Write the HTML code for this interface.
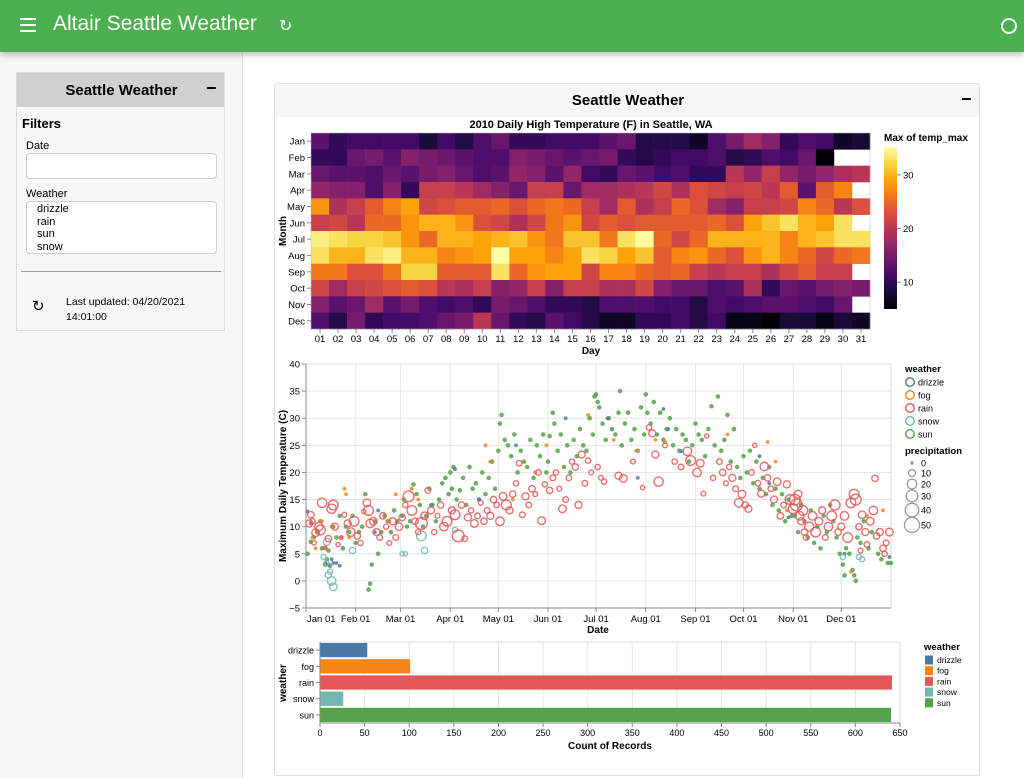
<!DOCTYPE html>
<html><head><meta charset="utf-8">
<style>
*{box-sizing:border-box;margin:0;padding:0}
body{width:1024px;height:778px;overflow:hidden;font-family:"Liberation Sans",sans-serif;background:#fff;position:relative}
.abs{position:absolute}
#hdr{left:0;top:0;width:1024px;height:52px;background:#4caf50;box-shadow:0 3px 6px rgba(0,0,0,.25);z-index:2}
#side{left:0;top:52px;width:243px;height:726px;background:#f6f6f6;border-right:1px solid #e2e2e2}
svg text{font-family:"Liberation Sans",sans-serif}
</style></head><body>
<div id="hdr" class="abs">
  <div class="abs" style="left:20px;top:18px;width:16px;height:14px">
    <div style="height:2px;background:#fff;margin-bottom:4px"></div><div style="height:2px;background:#fff;margin-bottom:4px"></div><div style="height:2px;background:#fff"></div>
  </div>
  <div class="abs" style="left:53px;top:12px;font-size:21px;color:#fff">Altair Seattle Weather</div>
  <div class="abs" style="left:279px;top:16px;font-size:16px;color:#fff">↻</div>
  <div class="abs" style="left:1001px;top:18px;width:16px;height:16px;border:2px solid #fff;border-radius:50%"></div>
</div>
<div id="side" class="abs"></div>
<div class="abs" style="left:16px;top:72px;width:209px;height:259px;border:1px solid #ddd;background:#f7f7f7">
  <div style="height:34px;background:#d0d0d0;position:relative">
    <div class="abs" style="left:0;width:209px;top:9px;text-align:center;font-weight:bold;font-size:15px">Seattle Weather</div>
    <div class="abs" style="left:189px;top:5px;font-weight:bold;font-size:18px">−</div>
  </div>
  <div class="abs" style="left:5px;top:43px;font-weight:bold;font-size:13px">Filters</div>
  <div class="abs" style="left:9px;top:67px;font-size:11px">Date</div>
  <div class="abs" style="left:9px;top:80px;width:191px;height:26px;border:1px solid #ccc;border-radius:4px;background:#fff"></div>
  <div class="abs" style="left:9px;top:115px;font-size:11px">Weather</div>
  <div class="abs" style="left:9px;top:128px;width:191px;height:53px;border:1px solid #ccc;border-radius:4px;background:#fff;font-size:11px;line-height:12.7px;padding:1px 0 0 10px">
    <div>drizzle</div><div>rain</div><div>sun</div><div>snow</div>
  </div>
  <div class="abs" style="left:4px;top:198px;width:200px;height:1px;background:#999"></div>
  <div class="abs" style="left:15px;top:224px;font-size:15px">↻</div>
  <div class="abs" style="left:49px;top:222px;font-size:10.5px;line-height:15px">Last updated: 04/20/2021<br>14:01:00</div>
</div>
<div class="abs" style="left:274px;top:83px;width:706px;height:693px;border:1px solid #ddd;border-radius:3px">
  <div style="height:33px;background:#f7f7f7;position:relative">
    <div class="abs" style="left:0;width:706px;top:8px;text-align:center;font-weight:bold;font-size:15px">Seattle Weather</div>
    <div class="abs" style="left:686px;top:5px;font-weight:bold;font-size:18px">−</div>
  </div>
</div>
<svg id="charts" class="abs" style="left:0;top:0" width="1024" height="778"></svg>
<script>
// ---------- heatmap data ----------
const months=["Jan","Feb","Mar","Apr","May","Jun","Jul","Aug","Sep","Oct","Nov","Dec"];
const dayLabels=["01","02","03","04","05","06","07","08","09","10","11","12","13","14","15","16","17","18","19","20","21","22","23","24","25","26","27","28","29","30","31"];
const tJan=[13,10,11,11,11,11,8,11,9,12,14,10,10,11,11,11,13,14,9,9,9,7,12,15,18,16,10,12,11,7,8];
const tFeb=[10,10,14,15,13,16,15,14,13,12,12,16,15,14,13,14,15,10,9,10,11,11,12,9,10,12,11,14,4,null,null];
const tMar=[14,13,13,12,14,13,15,16,14,12,13,17,16,13,17,11,10,14,13,11,12,10,10,20,17,21,17,15,17,19,20];
const tApr=[17,16,16,12,16,10,21,21,20,18,16,14,21,21,14,18,18,19,20,22,19,23,22,21,22,20,24,13,24,27,null];
const tMay=[28,19,21,24,27,29,22,23,24,24,25,23,25,26,25,21,18,24,19,21,25,23,18,16,21,21,22,27,25,20,23];
const tJun=[21,22,20,25,25,28,30,30,28,23,22,19,22,26,28,22,24,23,24,24,24,24,25,23,29,31,33,30,29,33,null];
const tJul=[34,33,32,32,31,28,25,30,30,29,30,31,28,26,31,31,26,33,35,25,22,25,30,30,30,30,27,30,31,33,33];
const tAug=[33,30,30,33,34,30,30,27,28,29,35.5,29,29,27,29,33,32,29,31,24,27,28,25,23,28,30,27,25,22,25,26];
const tSep=[26,26,23,23,26,32,32,24,24,24,33,25,28,29,29,22,27,27,25,24,25,21,20,21,21,19,22,24,21,21,null];
const tOct=[22,18,21,22,23,24,23,20,19,21,16,17,21,16,21,21,19,19,22,16,14,14,12,13,19,10,14,13,15,16,15];
const tNov=[16,13,14,18,13,15,12,11,12,10,15,14,12,10,10,9,12,12,12,11,11,9,12,11,12,13,13,12,11,14,null];
const tDec=[12,9,15,10,11,11,12,14,15,20,14,10,9,13,11,9,7,7,10,10,11,9,11,6,6,5,8,8,6,8,7];
const heatRows=[tJan,tFeb,tMar,tApr,tMay,tJun,tJul,tAug,tSep,tOct,tNov,tDec];
const heatTicks=[10,20,30];
// ---------- scatter data: [dayOfYear, tempMax, precipitation] ----------
const rainPts=[[2,10.6,10],[3,12.2,8],[4,11,5],[5,7,3],[6,8.9,12],[8,10,15],[9,9.4,20],[10,14.4,18],[12,6.1,2],[14,7.8,8],[16,13.3,18],[17,14,20],[18,10,10],[20,6.7,3],[22,8,2],[24,12.2,4],[26,10.6,10],[28,9,15],[30,11,20],
[32,8.3,8],[34,7,5],[36,12.8,3],[38,14.4,12],[39,13,20],[40,10.6,15],[42,11,12],[44,9,10],[46,8,6],[48,12,8],[50,10,5],[52,7,4],[54,11,10],[56,8,6],[58,10,12],
[60,11.7,8],[62,14,5],[64,15.6,25],[66,13,20],[68,11,8],[70,9,5],[72,10.6,30],[74,12,12],[76,16.7,6],[78,13,10],[80,9,5],[82,12,4],[84,14,8],[86,10,15],[88,11,20],
[91,13,10],[93,12.2,20],[95,8.3,30],[97,14,8],[99,7.8,6],[101,11.7,10],[103,13,5],[105,10.6,12],[107,12,6],[109,14.4,4],[111,11,8],[113,13,6],[115,12,10],[117,15,8],[119,14,5],
[121,11,15],[123,15.6,12],[125,14,20],[127,13,10],[129,16,8],[131,18,5],[133,21.7,6],[135,12.2,6],[137,15.6,10],[139,14,6],[141,17,8],[143,16,4],[145,20,6],[147,11.1,12],[149,17.8,5],
[152,16.7,8],[154,19,6],[156,20,5],[158,17,4],[160,13.3,12],[162,15,6],[164,19,6],[166,22,5],[168,21,8],[170,14,10],[172,23.3,10],[174,18,6],[176,22.2,5],[178,20,4],
[182,21,5],[184,19,4],[186,18.3,5],[195,19.4,10],[198,18.9,12],[204,22,4],[210,17.2,3],
[214,28.3,5],[216,27.2,10],[218,23.3,10],[220,18.3,18],[224,25,4],[230,22,5],[234,21,6],[238,23.9,15],[240,22.2,20],
[244,20,15],[246,21.7,12],[248,16.1,4],[250,26.7,3],[254,19,5],[258,22,6],[260,20,8],[262,18,4],[264,21,5],[266,19,10],[268,17,6],[270,14.4,15],[272,16,12],
[274,14,8],[276,13.3,10],[278,20,6],[280,25,3],[282,18,6],[284,16.1,10],[286,21.1,15],[288,19,8],[290,17,6],[292,15,10],[294,18.3,12],[296,12,8],[298,14,6],[300,17.8,10],[302,15,20],
[304,13.3,20],[305,15,25],[306,14,30],[307,16,12],[308,12,15],[309,11,10],[310,13,20],[311,9,8],[312,8,6],[314,10,18],[316,12,15],[318,9,20],[320,11,12],[322,13,10],[324,8,6],[326,10,15],[328,12,20],[330,14,22],[332,9,8],
[334,10,10],[336,12,15],[338,8,20],[340,14.4,20],[342,16,20],[343,15,25],[345,10,8],[347,12.2,12],[349,9,10],[350,6.7,6],[352,11,12],[354,13,15],[356,8.3,8],[358,9,10],[360,6,8],[362,7,6],[364,9,12],[355,18.9,8],[346,5.6,4],[361,5,5]];
const sunPts=[[1,5,0],[3,7.2,0],[5,8,0],[7,9,0],[9,11,0],[10,6,0],[12,3,0],[13,4,0],[14,5.6,0],[15,2.8,0],[17,10,0],[19,8,0],[21,12,0],[23,6,0],[25,10,0],[27,9,0],[29,12,0],
[31,7,0],[33,9,0],[35,10,0],[37,16,0],[39,-1.6,0],[40,-0.5,0],[41,3,0],[43,11,0],[45,5,0],[47,9,0],[49,12,0],[51,11,0],[53,9,0],[55,13,0],[57,11,0],
[60,12,0],[61,15,0],[63,10,0],[65,11,0],[67,17.8,0],[69,16,0],[71,14,0],[73,10,0],[75,12,0],[77,17,0],[79,14,0],[81,11,0],[83,15,0],[85,18,0],[87,19,0],[89,16,0],
[90,20,0],[91,17,0],[92,21,0],[94,15,0],[96,16.7,0],[98,19,0],[100,14,0],[102,21,0],[104,17,0],[106,18,0],[108,15,0],[110,20,0],[112,16,0],[114,19,0],[116,22,0],[118,17,0],
[120,24,0],[121,29,0],[122,30.6,0],[124,26,0],[126,25,0],[128,23,0],[130,27,0],[132,20,0],[134,24,0],[136,22,0],[138,21,0],[140,26,0],[142,19,0],[144,25,0],[146,23,0],[148,27,0],[150,20,0],
[151,22,0],[152,26.7,0],[154,31,0],[155,29,0],[157,24,0],[159,27,0],[161,21,0],[163,25,0],[165,20,0],[167,26,0],[169,23,0],[171,28,0],[173,25,0],[175,24,0],[177,30,0],[179,27,0],
[180,34,0],[181,34.4,0],[182,33,0],[183,32,0],[185,29,0],[187,26,0],[189,30,0],[191,28,0],[193,27,0],[195,31,0],[196,35,0],[197,25,0],[199,29,0],[201,31,0],[203,26,0],[205,28,0],[207,24,0],[209,32,0],[211,27,0],
[212,34.4,0],[213,31,0],[215,29,0],[217,33,0],[219,27,0],[221,31,0],[223,26,0],[225,28,0],[227,30,0],[229,25,0],[231,28,0],[233,24,0],[235,27,0],[237,26,0],[239,22,0],[241,25,0],
[243,29,0],[245,27,0],[247,26,0],[249,23,0],[251,28,0],[253,32.2,0],[255,25,0],[257,34,0],[259,24,0],[261,26,0],[263,30.6,0],[265,22,0],[267,28,0],[269,21,0],[271,19,0],
[273,23,0],[275,20,0],[277,24,0],[279,18,0],[281,22,0],[283,17,0],[285,19,0],[287,16,0],[289,21,0],[291,14,0],[293,17,0],[295,13,0],[297,16,0],[299,11,0],[301,15,0],[303,12,0],
[305,12,0],[307,9,0],[309,14,0],[311,11,0],[313,8,0],[315,13,0],[317,7,0],[319,10,0],[321,6,0],[323,12,0],[325,9,0],[327,14,0],[329,11,0],[331,8,0],[333,5,0],
[335,3,0],[336,1,0],[337,6,0],[339,5,0],[341,2,0],[342,1,0],[343,0,0],[344,8,0],[346,7,0],[348,11,0],[351,6,0],[353,9,0],[357,5,0],[359,4,0],[363,3.3,0],[365,3.3,0]];
const fogPts=[[4,8,0],[6,6,0],[10,11,0],[16,10,0],[24,17,0],[25,16,0],[27,8,0],[52,11,0],[56,16,0],[66,17,0],[70,15,0],[112,25,0],[115,22,0],[129,15,0],[143,20,0],[150,25,0],[176,30.6,0],[192,26,0],[206,24,0],[218,26,0],[224,25.6,0],[263,27,0],[288,25.6,0],[293,22,0],[300,13,0],[340,1.7,0],[350,12,0],[360,13,0]];
const drizzlePts=[[1,12.8,0],[3,10.6,0],[12,3.3,0],[14,3,0],[16,4,0],[17,3.3,0],[19,3.3,0],[21,2.8,0],[43,9,0],[45,13,0],[78,14,0],[93,20.6,0],[108,15,0],[131,25,0],[162,30,0],[188,30,0],[207,19,0],[223,31.7,0],[226,28,0],[234,23.9,0],[283,23,0],[289,18,0],[301,11.7,0],[336,5,0],[364,4.4,0]];
const snowPts=[[11,4.4,5],[13,3.3,3],[14,1.1,8],[15,1.7,5],[16,0,15],[17,-1.1,12],[13,7.2,10],[29,5.6,8],[60,5,3],[62,5,3],[72,8.3,20],[74,5.6,8],[93,9.4,5],[335,4.4,5],[345,4.4,5],[347,4,5]];
const monthTickLabels=["Jan 01","Feb 01","Mar 01","Apr 01","May 01","Jun 01","Jul 01","Aug 01","Sep 01","Oct 01","Nov 01","Dec 01"];
const monthStartDays=[0,31,59,90,120,151,181,212,243,273,304,334];
const tempTicks=[-5,0,5,10,15,20,25,30,35,40];
const precipLegend=[0,10,20,30,40,50];
// ---------- bar data ----------
const weatherCats=["drizzle","fog","rain","snow","sun"];
const weatherCounts=[53,101,641,26,640];
const countTicks=[0,50,100,150,200,250,300,350,400,450,500,550,600,650];
const weatherColors={drizzle:"#4c78a8",fog:"#f58518",rain:"#e45756",snow:"#72b7b2",sun:"#54a24b"};

const svg=document.getElementById('charts');
const NS="http://www.w3.org/2000/svg";
function mk(tag,attrs,parent,txt){const e=document.createElementNS(NS,tag);for(const k in attrs)e.setAttribute(k,attrs[k]);if(txt!==undefined)e.textContent=txt;(parent||svg).appendChild(e);return e;}
function grp(name){const g=mk('g',{});return g;}

// inferno ramp
const inferno=["#000004","#160b39","#420a68","#6a176e","#932667","#bc3754","#dd513a","#f37819","#fca50a","#f6d746","#fcffa4"];
function hex(c){return [1,3,5].map(i=>parseInt(c.substr(i,2),16));}
function infernoAt(t){t=Math.max(0,Math.min(1,t));const p=t*10,i=Math.min(9,Math.floor(p)),f=p-i;const a=hex(inferno[i]),b=hex(inferno[i+1]);return "rgb("+a.map((v,k)=>Math.round(v+(b[k]-v)*f)).join(",")+")";}

// ===== HEATMAP =====
const hX0=311,hX1=870,hY0=133,hY1=329,cMin=5,cMax=35.2;
const cw=(hX1-hX0)/31,ch=(hY1-hY0)/12;
const hx=d=>hX0+d*cw, hy=m=>hY0+m*ch;
const hg=grp('heatmap');
const ht=mk('text',{x:591,y:128,'text-anchor':'middle','font-size':11,'font-weight':'bold'},hg,"2010 Daily High Temperature (F) in Seattle, WA");

heatRows.forEach((row,m)=>row.forEach((v,d)=>{if(v===null)return;
  const r=mk('rect',{x:hx(d),y:hy(m),width:cw+0.3,height:ch+0.3,fill:infernoAt((v-cMin)/(cMax-cMin))},hg);
  }));
mk('rect',{x:hX0,y:hY0,width:hX1-hX0,height:hY1-hY0,fill:'none',stroke:'#bbb','stroke-width':0.5},hg);
months.forEach((m,i)=>{const y=hy(i)+ch/2;mk('line',{x1:hX0-4,x2:hX0,y1:y,y2:y,stroke:'#888'},hg);
  const t=mk('text',{x:hX0-6,y:y+3.5,'text-anchor':'end','font-size':9.5,fill:'#000'},hg,m);});
dayLabels.forEach((l,i)=>{const x=hx(i)+cw/2;mk('line',{x1:x,x2:x,y1:hY1,y2:hY1+4,stroke:'#888'},hg);
  const t=mk('text',{x:x,y:hY1+13,'text-anchor':'middle','font-size':9.5},hg,l);});
let at=mk('text',{x:591,y:354,'text-anchor':'middle','font-size':10,'font-weight':'bold'},hg,"Day");
at=mk('text',{x:286,y:231,'text-anchor':'middle','font-size':10,'font-weight':'bold',transform:'rotate(-90 286 231)'},hg,"Month");
// colorbar
const defs=mk('defs',{});const lg=mk('linearGradient',{id:'cb',x1:0,y1:1,x2:0,y2:0},defs);
inferno.forEach((c,i)=>mk('stop',{offset:(i*10)+'%','stop-color':c},lg));
const cbY0=147,cbY1=309;const cby=v=>cbY1-(v-cMin)/(cMax-cMin)*(cbY1-cbY0);
at=mk('text',{x:884,y:141,'font-size':10,'font-weight':'bold'},hg,"Max of temp_max");
const cb=mk('rect',{x:884,y:cbY0,width:13,height:cbY1-cbY0,fill:'url(#cb)'},hg);
heatTicks.forEach(v=>{const y=cby(v);mk('line',{x1:897,x2:901,y1:y,y2:y,stroke:'#888'},hg);
  const t=mk('text',{x:903,y:y+3.5,'font-size':9.5},hg,String(v));});

// ===== SCATTER =====
const sX0=306,sX1=891,sY0=364,sY1=608;
const sx=d=>sX0+d/365*(sX1-sX0), sy=v=>sY1-(v+5)/45*(sY1-sY0);
const sg=grp('scatter-plot');
tempTicks.forEach(v=>{const y=sy(v);mk('line',{x1:sX0,x2:sX1,y1:y,y2:y,stroke:'#e6e6e6'},sg);mk('line',{x1:sX0-4,x2:sX0,y1:y,y2:y,stroke:'#888'},sg);
  const t=mk('text',{x:sX0-6,y:y+3.5,'text-anchor':'end','font-size':9.5},sg,v<0?"−"+(-v):String(v));});
monthStartDays.forEach((d,i)=>{const x=sx(d);mk('line',{x1:x,x2:x,y1:sY0,y2:sY1,stroke:'#e6e6e6'},sg);mk('line',{x1:x,x2:x,y1:sY1,y2:sY1+4,stroke:'#888'},sg);
  const t=mk('text',{x:i===0?x+1:x,y:sY1+14,'text-anchor':i===0?'start':'middle','font-size':9.5},sg,monthTickLabels[i]);});
mk('rect',{x:sX0,y:sY0,width:sX1-sX0,height:sY1-sY0,fill:'none',stroke:'#ddd'},sg);
mk('line',{x1:sX0,x2:sX0,y1:sY0,y2:sY1,stroke:'#888'},sg);mk('line',{x1:sX0,x2:sX1,y1:sY1,y2:sY1,stroke:'#888'},sg);
at=mk('text',{x:598,y:633,'text-anchor':'middle','font-size':10,'font-weight':'bold'},sg,"Date");
at=mk('text',{x:286,y:486,'text-anchor':'middle','font-size':10,'font-weight':'bold',transform:'rotate(-90 286 486)'},sg,"Maximum Daily Temperature (C)");
const rOf=p=>Math.sqrt((4+p*3.5)/Math.PI);
function drawPts(pts,w){pts.forEach(p=>{const r=rOf(p[2]);
  const c=mk('circle',{cx:sx(p[0]),cy:sy(p[1]),r:w==='sun'?1.6:Math.max(r,1.2),fill:w==='sun'||r<2?weatherColors[w]:'none',stroke:weatherColors[w],'stroke-width':1.4,opacity:0.85},sg);
  });}
drawPts(sunPts,'sun');drawPts(fogPts,'fog');drawPts(drizzlePts,'drizzle');drawPts(snowPts,'snow');drawPts(rainPts,'rain');
// legends
at=mk('text',{x:905,y:372,'font-size':9.5,'font-weight':'bold'},sg,"weather");
weatherCats.forEach((w,i)=>{const y=382+i*13;mk('circle',{cx:910,cy:y,r:4.3,fill:'none',stroke:weatherColors[w],'stroke-width':1.4},sg);
  const t=mk('text',{x:918,y:y+3.5,'font-size':9},sg,w);});
at=mk('text',{x:905,y:454,'font-size':9.5,'font-weight':'bold'},sg,"precipitation");
const pys=[463,473,484,496,510,525];
precipLegend.forEach((p,i)=>{const y=pys[i];mk('circle',{cx:912,cy:y,r:rOf(p),fill:p===0?'#999':'none',stroke:'#999','stroke-width':1.3},sg);
  const t=mk('text',{x:921,y:y+3.5,'font-size':9},sg,String(p));});

// ===== BAR =====
const bX0=320,bX1=900,bY0=642,bY1=723;
const bx=v=>bX0+v/650*(bX1-bX0);const band=(bY1-bY0)/5;
const bg=grp('bar-chart');
countTicks.forEach(v=>{const x=bx(v);mk('line',{x1:x,x2:x,y1:bY0,y2:bY1,stroke:'#e6e6e6'},bg);mk('line',{x1:x,x2:x,y1:bY1,y2:bY1+4,stroke:'#888'},bg);
  const t=mk('text',{x:x,y:bY1+13,'text-anchor':'middle','font-size':9},bg,String(v));});
mk('line',{x1:bX0,x2:bX1,y1:bY0,y2:bY0,stroke:'#ddd'},bg);mk('line',{x1:bX1,x2:bX1,y1:bY0,y2:bY1,stroke:'#ddd'},bg);
weatherCats.forEach((w,i)=>{const y=bY0+i*band;
  const r=mk('rect',{x:bX0,y:y+1,width:bx(weatherCounts[i])-bX0,height:band-2,fill:weatherColors[w]},bg);
  mk('line',{x1:bX0-4,x2:bX0,y1:y+band/2,y2:y+band/2,stroke:'#888'},bg);
  const t=mk('text',{x:bX0-6,y:y+band/2+3.5,'text-anchor':'end','font-size':9},bg,w);});
mk('line',{x1:bX0,x2:bX0,y1:bY0,y2:bY1,stroke:'#888'},bg);mk('line',{x1:bX0,x2:bX1,y1:bY1,y2:bY1,stroke:'#888'},bg);
at=mk('text',{x:610,y:749,'text-anchor':'middle','font-size':10,'font-weight':'bold'},bg,"Count of Records");
at=mk('text',{x:286,y:683,'text-anchor':'middle','font-size':10,'font-weight':'bold',transform:'rotate(-90 286 683)'},bg,"weather");
at=mk('text',{x:924,y:650,'font-size':9.5,'font-weight':'bold'},bg,"weather");
weatherCats.forEach((w,i)=>{const y=660+i*10.7;mk('rect',{x:925,y:y-4.5,width:8,height:9,fill:weatherColors[w]},bg);
  const t=mk('text',{x:937,y:y+3,'font-size':8.5},bg,w);});
</script>
</body></html>
